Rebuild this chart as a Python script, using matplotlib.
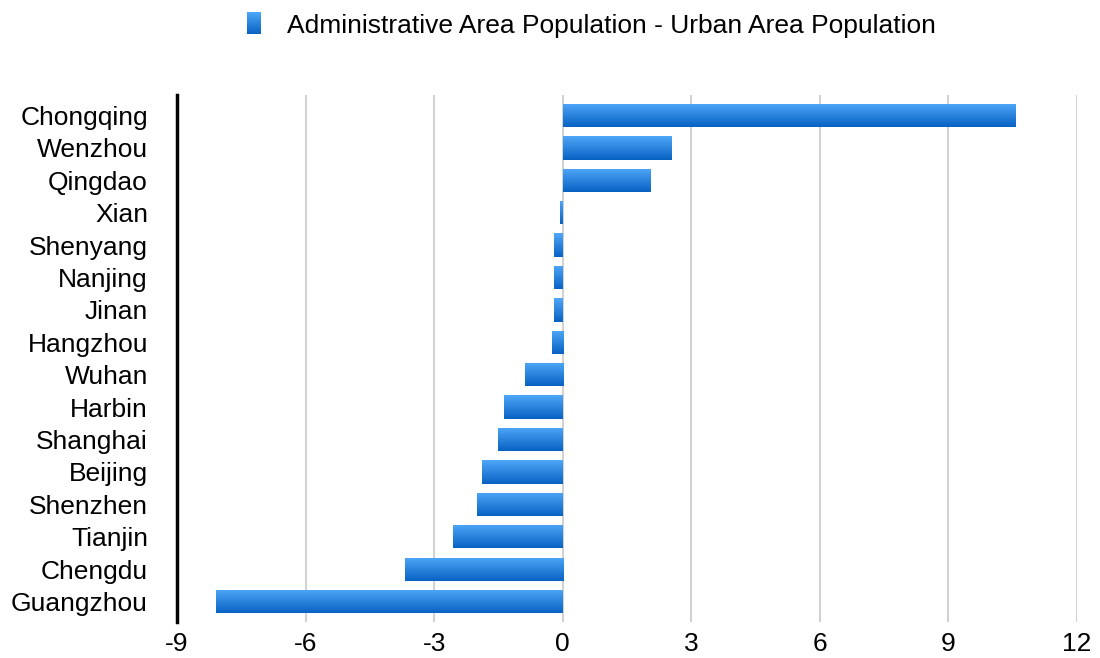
import matplotlib.pyplot as plt
import numpy as np
from matplotlib.colors import LinearSegmentedColormap

cities = [
    "Chongqing", "Wenzhou", "Qingdao", "Xian", "Shenyang", "Nanjing", "Jinan",
    "Hangzhou", "Wuhan", "Harbin", "Shanghai", "Beijing", "Shenzhen", "Tianjin",
    "Chengdu", "Guangzhou",
]
difference = [
    10.55, 2.53, 2.04, -0.07, -0.21, -0.21, -0.21,
    -0.26, -0.89, -1.37, -1.51, -1.89, -2.0, -2.56,
    -3.69, -8.09,
]
x_ticks = [-9, -6, -3, 0, 3, 6, 9, 12]
series_name = "Administrative Area Population - Urban Area Population"

plt.rcParams["font.family"] = ["Liberation Sans", "DejaVu Sans"]

blue = LinearSegmentedColormap.from_list("blue", ["#0862c3", "#4fa7f8"])
# first row is drawn at the top: light on top, dark at the bottom
gradient = np.linspace(1, 0, 64).reshape(-1, 1)

fig = plt.figure(figsize=(11, 6.58), dpi=100)
ax = fig.add_axes([0.161, 0.0547, 0.818, 0.8009])

y = np.arange(len(cities))
bars = ax.barh(y, difference, height=0.72, color="none", edgecolor="none", zorder=3)

for bar in bars:
    x0, y0 = bar.get_x(), bar.get_y()
    w, h = bar.get_width(), bar.get_height()
    img = ax.imshow(
        gradient, cmap=blue, aspect="auto", origin="upper",
        extent=(x0, x0 + w, y0 + h, y0), zorder=3, interpolation="bilinear",
    )
    img.set_clip_path(bar)

ax.set_xlim(-9, 12)
ax.set_ylim(len(cities) - 0.37, -0.63)
ax.set_xticks(x_ticks)
ax.set_xticklabels([str(t) for t in x_ticks], fontsize=19)
ax.set_yticks(y)
ax.set_yticklabels(cities, fontsize=19)
ax.tick_params(axis="both", length=0)
ax.tick_params(axis="x", pad=7)
ax.tick_params(axis="y", pad=21)

ax.grid(axis="x", color="#d2d2d2", linewidth=1.5, zorder=0)
for side in ("top", "right", "bottom"):
    ax.spines[side].set_visible(False)
ax.spines["left"].set_linewidth(2.5)
ax.spines["left"].set_color("black")
ax.spines["left"].set_zorder(4)

# legend: gradient swatch plus the series name
swatch = fig.add_axes([247 / 1100, 1 - 34 / 658, 14 / 1100, 22 / 658])
swatch.imshow(gradient, cmap=blue, aspect="auto", origin="upper", interpolation="bilinear")
swatch.axis("off")
fig.text(287 / 1100, 1 - 26 / 658, series_name, fontsize=19, va="center", ha="left")

fig.savefig("out.png", dpi=100)
